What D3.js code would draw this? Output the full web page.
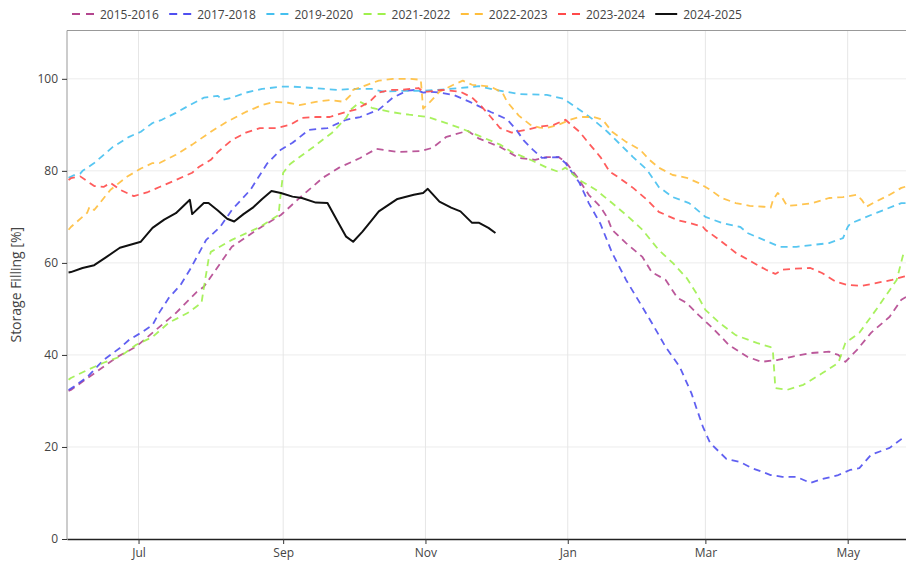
<!DOCTYPE html>
<meta charset="utf-8">
<script src="https://d3js.org/d3.v7.min.js"></script>
<style>
  body { margin: 0; background: #fff; }
  text { font-family: "Open Sans", sans-serif; }
</style>
<div id="chart"></div>
<script>

// storage filling per season, [month-day, percent]; Jun-Dec is the first year, Jan-May the second
var s1516 = [["06-01",32.2],["06-02",32.4],["06-12",36.0],["06-22",39.6],["06-30",41.8],["07-10",46.1],["07-17",49.1],["07-26",53.7],["07-29",54.8],["08-10",63.5],["08-22",67.6],["08-31",70.4],["09-08",74.1],["09-18",78.5],["09-25",80.7],["10-04",82.8],["10-11",84.8],["10-20",84.1],["10-30",84.3],["11-04",85.0],["11-10",87.4],["11-19",88.7],["11-24",87.0],["12-03",85.2],["12-11",82.8],["12-18",82.4],["12-23",83.0],["12-28",83.0],["12-31",82.0],["01-05",78.7],["01-10",74.8],["01-15",72.2],["01-18",69.8],["01-20",67.2],["01-26",64.3],["02-02",61.3],["02-06",58.0],["02-12",56.3],["02-17",52.4],["02-21",51.3],["02-26",48.7],["03-04",45.9],["03-11",42.2],["03-19",39.6],["03-25",38.5],["04-01",38.9],["04-07",39.6],["04-15",40.4],["04-23",40.7],["04-27",40.0],["04-30",38.5],["05-05",41.1],["05-11",44.8],["05-19",48.3],["05-24",52.0],["05-26",52.6]];

var s1718 = [["06-01",32.4],["06-03",33.0],["06-09",35.2],["06-16",38.9],["06-23",41.5],["06-27",43.3],["07-02",44.8],["07-07",46.5],["07-10",49.3],["07-14",52.4],["07-19",55.2],["07-23",58.5],["07-30",65.0],["08-05",67.8],["08-10",71.5],["08-18",75.9],["08-25",81.5],["08-31",84.6],["09-05",86.1],["09-12",88.9],["09-20",89.3],["09-28",91.1],["10-04",91.7],["10-12",93.3],["10-18",95.9],["10-24",97.4],["10-28",97.6],["10-31",97.0],["11-03",97.2],["11-07",97.0],["11-13",96.5],["11-20",95.0],["11-29",92.8],["12-06",91.2],["12-10",88.9],["12-13",86.7],["12-17",84.6],["12-21",82.8],["12-28",83.0],["12-31",81.7],["01-06",77.4],["01-10",73.0],["01-15",68.5],["01-20",62.2],["01-26",56.3],["02-02",50.4],["02-06",47.0],["02-12",41.7],["02-18",37.4],["02-23",31.7],["02-25",28.7],["02-28",24.3],["03-03",20.9],["03-10",17.4],["03-16",16.7],["03-21",15.4],["03-29",13.9],["04-03",13.5],["04-09",13.5],["04-15",12.2],["04-20",13.0],["04-27",13.9],["05-02",15.0],["05-06",15.4],["05-11",18.3],["05-19",19.8],["05-24",21.7],["05-26",22.3]];

var s1920 = [["06-01",78.5],["06-03",79.0],["06-06",79.4],["06-07",80.0],["06-12",81.7],["06-20",85.2],["06-27",87.4],["07-02",88.5],["07-07",90.4],["07-11",91.1],["07-17",92.6],["07-23",94.3],["07-29",95.9],["08-04",96.3],["08-06",95.4],["08-10",95.9],["08-16",97.0],["08-23",97.8],["08-31",98.3],["09-05",98.3],["09-14",98.0],["09-24",97.6],["10-01",97.8],["10-09",97.8],["10-14",97.2],["10-22",97.4],["10-31",97.4],["11-06",97.6],["11-16",98.0],["11-24",98.4],["12-01",97.6],["12-11",96.7],["12-23",96.5],["12-30",95.7],["01-06",93.3],["01-12",91.1],["01-18",88.5],["01-23",86.0],["01-29",83.0],["02-04",80.2],["02-09",76.5],["02-15",74.3],["02-22",73.0],["03-01",70.0],["03-08",68.7],["03-16",67.8],["03-19",66.5],["03-26",65.0],["04-02",63.5],["04-09",63.5],["04-16",63.9],["04-23",64.3],["04-29",65.4],["05-01",67.8],["05-02",68.5],["05-11",70.4],["05-24",73.0],["05-26",73.0]];

var s2122 = [["06-01",34.6],["06-02",35.0],["06-09",36.7],["06-16",38.3],["06-23",39.6],["06-30",42.2],["07-07",43.9],["07-14",47.0],["07-22",49.1],["07-28",51.3],["07-29",54.6],["07-31",60.7],["08-01",62.4],["08-10",65.0],["08-22",67.8],["08-30",70.4],["08-31",75.2],["09-01",79.6],["09-04",81.5],["09-14",85.2],["09-22",88.3],["09-28",91.5],["09-30",93.3],["10-04",95.0],["10-09",93.7],["10-17",92.8],["10-25",92.2],["11-02",91.7],["11-08",90.7],["11-16",89.3],["11-24",87.6],["12-03",85.7],["12-08",84.1],["12-16",82.4],["12-23",80.7],["12-28",79.8],["12-31",80.7],["01-06",78.0],["01-13",75.9],["01-20",73.0],["01-27",70.0],["02-02",67.2],["02-09",62.8],["02-15",60.0],["02-21",56.7],["02-25",53.5],["03-01",49.8],["03-07",47.0],["03-14",44.3],["03-23",42.6],["03-29",41.7],["03-30",40.4],["03-31",32.8],["04-05",32.4],["04-12",33.5],["04-20",36.0],["04-27",38.3],["04-30",42.6],["05-06",44.8],["05-14",50.4],["05-22",56.3],["05-25",62.2],["05-26",62.5]];

var s2223 = [["06-01",67.2],["06-02",67.8],["06-09",70.9],["06-10",72.2],["06-12",71.5],["06-19",75.9],["06-26",78.7],["07-02",80.5],["07-07",81.7],["07-10",81.7],["07-17",83.5],["07-24",85.7],["08-01",88.5],["08-08",90.7],["08-16",92.8],["08-23",94.3],["08-28",95.0],["09-03",94.8],["09-08",94.3],["09-15",95.0],["09-21",95.4],["09-27",95.0],["09-30",96.5],["10-01",97.6],["10-07",98.7],["10-12",99.6],["10-18",100.0],["10-25",100.0],["10-30",99.8],["10-31",93.5],["11-03",95.0],["11-07",97.2],["11-13",98.7],["11-17",99.6],["11-21",98.7],["11-29",98.3],["12-04",97.0],["12-06",95.0],["12-11",92.0],["12-16",90.0],["12-20",89.4],["12-23",89.3],["12-28",90.0],["01-02",91.1],["01-06",91.7],["01-12",91.7],["01-16",91.1],["01-20",88.5],["01-26",86.3],["02-01",84.6],["02-05",82.4],["02-09",80.7],["02-15",79.1],["02-21",78.5],["02-26",77.4],["03-03",75.9],["03-08",74.1],["03-14",73.0],["03-20",72.4],["03-26",72.2],["03-29",72.0],["03-30",73.7],["04-01",75.2],["04-03",74.1],["04-05",72.4],["04-10",72.6],["04-16",73.0],["04-23",74.1],["04-29",74.3],["05-05",74.8],["05-07",73.7],["05-09",72.2],["05-13",73.3],["05-19",74.8],["05-24",76.3],["05-26",76.6]];

var s2324 = [["06-01",78.0],["06-02",78.4],["06-06",78.8],["06-12",76.7],["06-16",76.5],["06-19",77.4],["06-23",75.9],["06-29",74.5],["07-05",75.4],["07-10",76.5],["07-17",78.0],["07-24",79.6],["07-27",80.9],["08-01",82.4],["08-04",84.1],["08-10",86.7],["08-16",88.3],["08-22",89.3],["08-29",89.3],["09-04",90.0],["09-09",91.5],["09-15",91.7],["09-21",91.7],["09-28",92.8],["10-02",93.3],["10-08",95.0],["10-12",97.0],["10-17",97.6],["10-22",97.6],["10-29",98.0],["10-31",97.2],["11-02",97.2],["11-08",97.6],["11-16",97.2],["11-21",95.9],["11-25",94.0],["11-29",91.7],["12-03",89.3],["12-08",88.3],["12-14",88.9],["12-20",89.6],["12-26",90.0],["12-31",91.1],["01-06",88.5],["01-10",86.0],["01-15",83.0],["01-19",79.8],["01-23",78.5],["01-29",76.3],["02-04",73.7],["02-09",71.1],["02-17",69.3],["02-22",68.7],["02-28",67.8],["03-01",67.2],["03-07",65.0],["03-14",62.2],["03-21",60.2],["03-27",58.5],["03-31",57.6],["04-03",58.5],["04-07",58.7],["04-15",58.9],["04-20",57.8],["04-26",55.9],["05-01",55.2],["05-07",55.0],["05-14",55.7],["05-20",56.3],["05-25",57.0],["05-26",57.1]];

var s2425 = [["06-01",57.9],["06-02",58.0],["06-07",58.9],["06-12",59.5],["06-17",61.2],["06-23",63.3],["07-02",64.6],["07-07",67.6],["07-12",69.4],["07-17",70.8],["07-23",73.7],["07-24",70.6],["07-29",73.0],["07-31",73.0],["08-04",71.4],["08-08",69.6],["08-11",69.0],["08-15",70.6],["08-19",72.0],["08-23",73.9],["08-27",75.6],["08-31",75.2],["09-05",74.4],["09-09",74.1],["09-15",73.1],["09-20",73.0],["09-24",69.3],["09-28",65.7],["10-01",64.6],["10-05",66.8],["10-09",69.3],["10-12",71.2],["10-20",73.9],["10-27",74.8],["10-31",75.2],["11-02",76.1],["11-07",73.3],["11-12",72.0],["11-16",71.2],["11-21",68.7],["11-24",68.7],["11-28",67.6],["12-01",66.5]];

var seasonNames = ["2015-2016", "2017-2018", "2019-2020", "2021-2022", "2022-2023", "2023-2024", "2024-2025"];
var seasonColors = ["#b4468f", "#4f4ff0", "#45c0ef", "#9ff04c", "#ffbe3c", "#ff4a4a", "#111111"];
var seasonValues = [s1516, s1718, s1920, s2122, s2223, s2324, s2425];

var yTicks = [0, 20, 40, 60, 80, 100];
var xTickDays = ["07-01", "09-01", "11-01", "01-01", "03-01", "05-01"];

// month-day -> date on one season axis
function toDate(md) {
  var m = +md.slice(0, 2), d = +md.slice(3, 5);
  return new Date(m >= 6 ? 2024 : 2025, m - 1, d);
}

var W = 906, H = 562;
var plotL = 67, plotT = 30.5, plotB = 539, plotR = 906;

var svg = d3.select("#chart").append("svg")
  .attr("width", W)
  .attr("height", H);

var x = d3.scaleTime()
  .domain([new Date(2024, 4, 31, 8), new Date(2025, 4, 26)])
  .range([plotL, plotR]);

var y = d3.scaleLinear()
  .domain([0, 110.5])
  .range([plotB, plotT]);

svg.append("clipPath").attr("id", "plotclip")
  .append("rect")
    .attr("x", plotL).attr("y", plotT)
    .attr("width", plotR - plotL).attr("height", plotB - plotT);

// grid
svg.append("g")
  .selectAll("line")
  .data(yTicks.slice(1))
  .enter().append("line")
    .attr("x1", plotL).attr("x2", plotR)
    .attr("y1", function(d) { return y(d); })
    .attr("y2", function(d) { return y(d); })
    .style("stroke", "#ececec");

svg.append("g")
  .selectAll("line")
  .data(xTickDays)
  .enter().append("line")
    .attr("x1", function(d) { return x(toDate(d)); })
    .attr("x2", function(d) { return x(toDate(d)); })
    .attr("y1", plotT).attr("y2", plotB)
    .style("stroke", "#e6e6e6");

// frame top and left
svg.append("line")
  .attr("x1", plotL).attr("x2", plotR).attr("y1", plotT).attr("y2", plotT)
  .style("stroke", "#999");
svg.append("line")
  .attr("x1", plotL).attr("x2", plotL).attr("y1", plotT).attr("y2", plotB)
  .style("stroke", "#999");

// lines
var line = d3.line()
  .x(function(d) { return x(toDate(d[0])); })
  .y(function(d) { return y(d[1]); });

var plot = svg.append("g").attr("clip-path", "url(#plotclip)");
seasonValues.forEach(function(vals, i) {
  var last = i === seasonValues.length - 1;
  plot.append("path")
    .datum(vals)
    .attr("d", line)
    .style("fill", "none")
    .style("stroke", seasonColors[i])
    .style("stroke-width", last ? 2 : 1.8)
    .style("stroke-opacity", last ? 1 : 0.9)
    .style("stroke-dasharray", last ? null : "7,5")
    .style("stroke-linejoin", "round");
});

// axes
var yAxis = svg.append("g")
  .attr("transform", "translate(" + plotL + ",0)")
  .call(d3.axisLeft(y).tickValues(yTicks).tickSize(5).tickPadding(4));
yAxis.select(".domain").remove();

var xAxis = svg.append("g")
  .attr("transform", "translate(0," + plotB + ")")
  .call(d3.axisBottom(x).tickValues(xTickDays.map(toDate))
    .tickFormat(d3.timeFormat("%b")).tickSize(5).tickPadding(4)
    .tickSizeOuter(0));
xAxis.select(".domain").style("stroke", "#222").style("stroke-width", 1.5);

svg.selectAll(".tick line").style("stroke", "#333");
svg.selectAll(".tick text")
  .style("font-family", "'Open Sans', sans-serif")
  .style("font-size", "12px")
  .style("fill", "#444");

svg.append("text")
  .attr("transform", "translate(21," + ((plotT + plotB) / 2) + ") rotate(-90)")
  .style("text-anchor", "middle")
  .style("font-size", "14px")
  .style("fill", "#444")
  .text("Storage Filling [%]");

// legend
var legend = svg.append("g")
  .selectAll("g")
  .data(seasonNames)
  .enter().append("g")
    .attr("transform", function(d, i) { return "translate(" + (72 + i * 97.2) + ",14)"; });

legend.append("line")
  .attr("x1", 0).attr("x2", 22).attr("y1", 0).attr("y2", 0)
  .style("stroke", function(d, i) { return seasonColors[i]; })
  .style("stroke-width", 2)
  .style("stroke-dasharray", function(d, i) { return i === 6 ? null : "8,6"; });

legend.append("text")
  .attr("x", 28).attr("y", 4.5)
  .style("font-size", "12px")
  .style("fill", "#444")
  .text(function(d) { return d; });

</script>
